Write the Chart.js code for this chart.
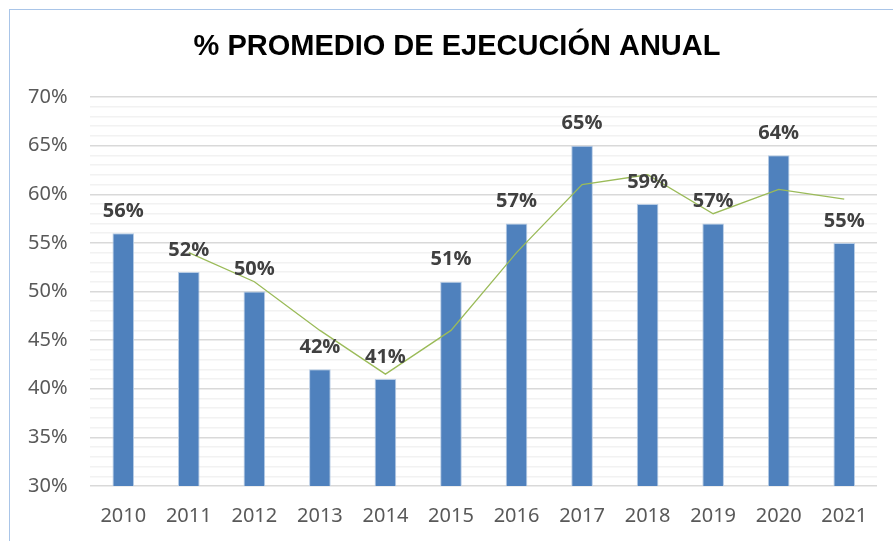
<!DOCTYPE html>
<html>
<head>
  <title>% Promedio de ejecución anual</title>
  <script src="https://cdn.jsdelivr.net/npm/chart.js"></script>
  <style>
    body { margin: 0; background: #fff; overflow: hidden; }
    .frame { position: absolute; left: 9px; top: 9px; width: 920px; height: 600px; border: 1px solid #a9c5e8; }
    .chart-container { position: absolute; left: 0; top: 0; width: 893px; height: 541px; }
  </style>
</head>
<body>
  <div class="frame"></div>
  <div class="chart-container">
    <canvas id="chart"></canvas>
  </div>
  <script>
    const years = ['2010', '2011', '2012', '2013', '2014', '2015', '2016', '2017', '2018', '2019', '2020', '2021'];
    const ejecucion = [56, 52, 50, 42, 41, 51, 57, 65, 59, 57, 64, 55];
    // tendencia (media móvil de 2 periodos)
    const tendencia = [null, 54, 51, 46, 41.5, 46, 54, 61, 62, 58, 60.5, 59.5];
    const titulo = '% PROMEDIO DE EJECUCIÓN ANUAL';

    // etiquetas encima de las barras + título
    const barLabels = {
      id: 'barLabels',
      afterDatasetsDraw(chart) {
        const ctx = chart.ctx;
        const meta = chart.getDatasetMeta(0);
        ctx.save();
        ctx.font = 'bold 20px "Open Sans", sans-serif';
        ctx.fillStyle = '#404040';
        ctx.textAlign = 'center';
        ctx.textBaseline = 'bottom';
        meta.data.forEach((bar, i) => {
          ctx.fillText(ejecucion[i] + '%', bar.x, bar.y - 12);
        });
        ctx.font = 'bold 29px "Liberation Sans", Arial, sans-serif';
        ctx.fillStyle = '#000';
        ctx.textBaseline = 'middle';
        ctx.fillText(titulo, 457, 47);
        ctx.restore();
      }
    };

    new Chart(document.getElementById('chart'), {
      type: 'bar',
      data: {
        labels: years,
        datasets: [
          {
            label: '% Ejecución',
            data: ejecucion,
            backgroundColor: '#4f81bd',
            borderColor: '#b9cde5',
            borderWidth: 1,
            barPercentage: 0.66,
            categoryPercentage: 0.5,
            order: 2
          },
          {
            type: 'line',
            label: 'Tendencia',
            data: tendencia,
            borderColor: '#9bbb59',
            borderWidth: 1.3,
            pointRadius: 0,
            fill: false,
            tension: 0,
            order: 1
          }
        ]
      },
      options: {
        responsive: true,
        maintainAspectRatio: false,
        animation: false,
        layout: { padding: { left: 5, right: 16, top: 97, bottom: 3 } },
        plugins: {
          legend: { display: false },
          tooltip: { enabled: false },
          title: { display: false }
        },
        scales: {
          x: {
            grid: { display: false },
            border: { display: false },
            ticks: {
              color: '#595959',
              font: { family: '"Noto Sans", sans-serif', size: 20 },
              padding: 10
            }
          },
          y: {
            min: 30,
            max: 70,
            border: { display: false },
            grid: {
              drawTicks: false,
              lineWidth: 1.5,
              color: c => (c.tick && c.tick.value % 5 === 0) ? '#d9d9d9' : '#f2f2f2'
            },
            ticks: {
              stepSize: 1,
              autoSkip: false,
              color: '#595959',
              font: { family: '"Noto Sans", sans-serif', size: 20 },
              padding: 23,
              callback: v => (v % 5 === 0) ? v + '%' : ''
            }
          }
        }
      },
      plugins: [barLabels]
    });
  </script>
</body>
</html>
